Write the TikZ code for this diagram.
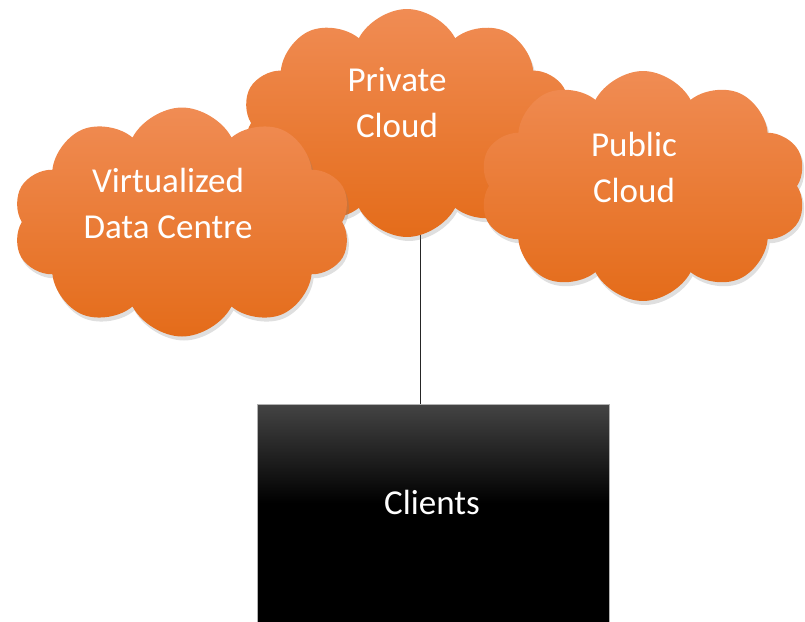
\documentclass[tikz,border=0pt]{standalone}
\usepackage{fontspec}
\setmainfont{Carlito}
\usetikzlibrary{shapes.symbols, shadows, backgrounds}
\definecolor{cloudtop}{RGB}{240,140,84}
\definecolor{cloudmid}{RGB}{242,126,50}
\definecolor{cloudbot}{RGB}{228,108,26}
\definecolor{boxtop}{RGB}{68,68,68}
\pgfdeclareverticalshading{clientshade}{100bp}{color(0bp)=(black); color(56bp)=(black); color(75bp)=(boxtop); color(100bp)=(boxtop)}

\begin{document}
\begin{tikzpicture}[x=1pt,y=-1pt,
        cloudbox/.style={cloud, cloud puffs=10, cloud puff arc=125, draw=none, inner sep=0pt,
            top color=cloudtop, middle color=cloudmid, bottom color=cloudbot,
            drop shadow={opacity=0.25, shadow xshift=2pt, shadow yshift=-4pt}},
        cloudtext/.style={text=white, align=center, font=\fontsize{35}{46}\selectfont},
        clientbox/.style={rectangle, draw=gray!60, line width=0.6pt, inner sep=0pt,
            shading=clientshade,
            drop shadow={opacity=0.2, shadow xshift=1pt, shadow yshift=-2pt}}]
            \useasboundingbox (0,0) rectangle (805,621);
            \coordinate (linex) at (420,0);

            % draw the clouds
            \node[cloudbox, minimum width=330pt, minimum height=228pt] (priv) at (407,123) {};
            \node[cloudbox, minimum width=327pt, minimum height=230pt] (pub) at (643,186) {};
            \node[cloudbox, minimum width=338pt, minimum height=229pt] (virt) at (182,222) {};

            % text in the clouds
            \node[cloudtext] (privtext) at (397,103) {Private\\Cloud};
            \node[cloudtext] (pubtext) at (634,167) {Public\\Cloud};
            \node[cloudtext] (virttext) at (168,203) {Virtualized\\Data Centre};

            % clients
            \node[clientbox, anchor=north west, minimum width=352pt, minimum height=260pt] (clients) at (257,404) {};
            \node[cloudtext] (clientstext) at (432,502) {Clients};

            % link, behind the clouds
            \begin{scope}[on background layer]
            \draw[black!85, line width=1pt] (priv.center -| linex) -- (clients.north -| linex);
            \end{scope}
        \end{tikzpicture}
\end{document}
